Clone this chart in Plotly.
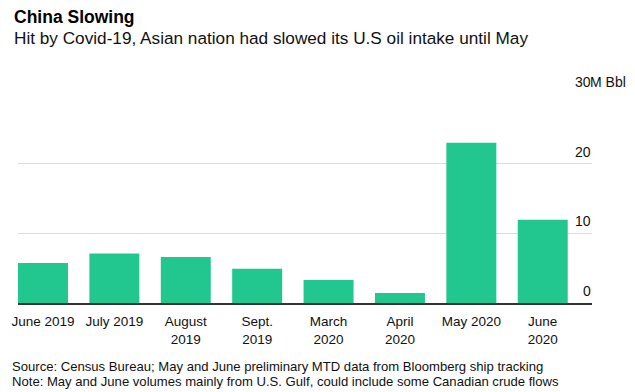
import plotly.graph_objects as go

# Data
categories = ["June 2019", "July 2019", "August<br>2019", "Sept.<br>2019",
              "March<br>2020", "April<br>2020", "May 2020", "June<br>2020"]
volumes = [5.75, 7.1, 6.6, 4.9, 3.3, 1.45, 23.0, 11.95]  # million barrels
y_ticks = [0, 10, 20, 30]
y_tick_labels = ["0", "10", "20", "30"]
y_unit = "M Bbl"

title = "China Slowing"
subtitle = "Hit by Covid-19, Asian nation had slowed its U.S oil intake until May"
source = "Source: Census Bureau; May and June preliminary MTD data from Bloomberg ship tracking"
note = "Note: May and June volumes mainly from U.S. Gulf, could include some Canadian crude flows"

FONT = "Liberation Sans, Arial, sans-serif"
BAR = "#21C78F"

fig = go.Figure()
fig.add_trace(go.Bar(
    x=list(range(len(categories))), y=volumes,
    marker=dict(color=BAR, line=dict(width=0)),
    width=0.7, hoverinfo="skip"))

W, H = 635, 392
ml, mr, mt, mb = 15, 43, 94, 89

fig.update_layout(
    width=W, height=H,
    margin=dict(l=ml, r=mr, t=mt, b=mb, pad=0),
    paper_bgcolor="white", plot_bgcolor="white",
    showlegend=False,
    font=dict(family=FONT, color="#111"),
    xaxis=dict(
        range=[-0.35, 7.69],
        tickmode="array", tickvals=list(range(len(categories))), ticktext=categories,
        ticks="outside", ticklen=5, tickcolor="rgba(0,0,0,0)",
        tickfont=dict(size=13.5, color="#111"),
        showline=True, linecolor="#333", linewidth=1.5,
        showgrid=False, zeroline=False, fixedrange=True),
    yaxis=dict(
        range=[0, 30], tickmode="array", tickvals=y_ticks,
        showticklabels=False, ticks="",
        showgrid=True, gridcolor="#DCDCDC", gridwidth=1,
        zeroline=False, showline=False, fixedrange=True),
)

ann = []
# y tick labels (right aligned numbers with overhanging unit)
for v, lab in zip(y_ticks, y_tick_labels):
    ann.append(dict(x=1, xref="paper", y=v, yref="y", text=lab,
                    xanchor="right", yanchor="bottom", xshift=1, yshift=2,
                    showarrow=False, font=dict(size=14, color="#111")))
ann.append(dict(x=1, xref="paper", y=y_ticks[-1], yref="y", text=y_unit,
                xanchor="left", yanchor="bottom", xshift=-4, yshift=2,
                showarrow=False, font=dict(size=14, color="#111")))

# Title & subtitle
ann.append(dict(x=0, xref="paper", y=1, yref="paper", text="<b>" + title + "</b>",
                xanchor="left", yanchor="middle", xshift=-6, yshift=mt - 17,
                showarrow=False, font=dict(size=17.5, color="#000")))
ann.append(dict(x=0, xref="paper", y=1, yref="paper", text=subtitle,
                xanchor="left", yanchor="middle", xshift=-6, yshift=mt - 38,
                showarrow=False, font=dict(size=17.2, color="#111")))

# Footnotes
plot_bottom = H - mb
ann.append(dict(x=0, xref="paper", y=0, yref="paper", text=source,
                xanchor="left", yanchor="middle", xshift=-8, yshift=plot_bottom - 366,
                showarrow=False, font=dict(size=13.1, color="#111")))
ann.append(dict(x=0, xref="paper", y=0, yref="paper", text=note,
                xanchor="left", yanchor="middle", xshift=-8, yshift=plot_bottom - 381,
                showarrow=False, font=dict(size=13.1, color="#111")))

fig.update_layout(annotations=ann)
fig.write_html("out.html", config={"displayModeBar": False},
               post_script="document.body.style.margin='0px';document.body.style.overflow='hidden';")
